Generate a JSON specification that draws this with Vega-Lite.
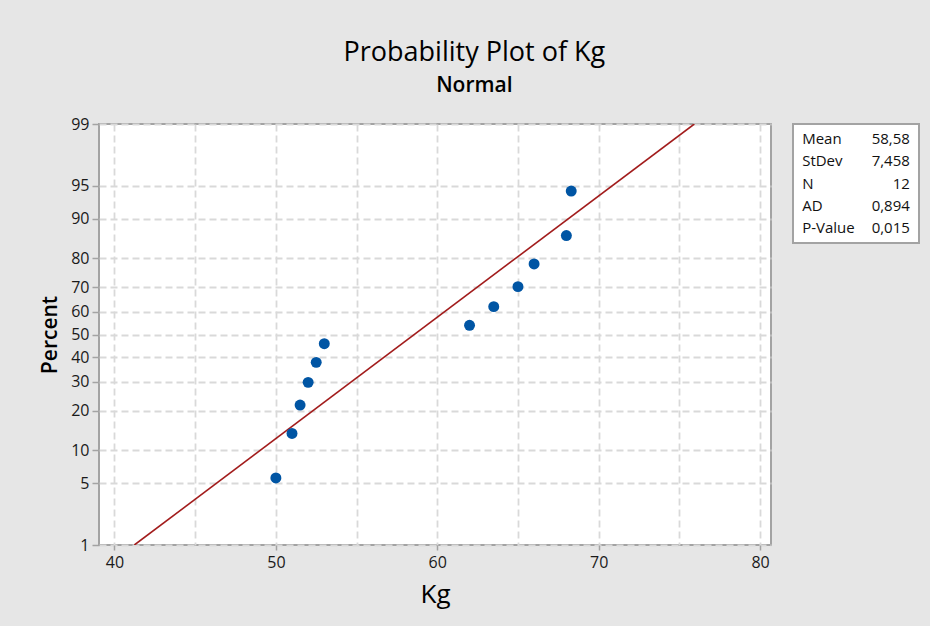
{
  "$schema": "https://vega.github.io/schema/vega-lite/v6.json",
  "autosize": {"type": "pad"},
  "padding": {"left": 38, "top": 39, "right": 10, "bottom": 19},
  "background": "#e6e6e6",
  "title": {
    "text": "Probability Plot of Kg",
    "subtitle": "Normal",
    "anchor": "middle",
    "font": "Open Sans",
    "fontSize": 27,
    "fontWeight": "normal",
    "color": "#000000",
    "subtitleFont": "Open Sans",
    "subtitleFontSize": 21,
    "subtitleFontWeight": 600,
    "subtitleColor": "#000000",
    "subtitlePadding": 8,
    "offset": 18,
    "dx": -5
  },
  "datasets": {
    "obs": [
      {"kg": 50.0, "percent": 5.65, "z": -1.585},
      {"kg": 51.0, "percent": 13.71, "z": -1.094},
      {"kg": 51.5, "percent": 21.77, "z": -0.780},
      {"kg": 52.0, "percent": 29.84, "z": -0.529},
      {"kg": 52.5, "percent": 37.90, "z": -0.308},
      {"kg": 53.0, "percent": 45.97, "z": -0.1013},
      {"kg": 62.0, "percent": 54.03, "z": 0.1013},
      {"kg": 63.5, "percent": 62.10, "z": 0.308},
      {"kg": 65.0, "percent": 70.16, "z": 0.529},
      {"kg": 66.0, "percent": 78.23, "z": 0.780},
      {"kg": 68.0, "percent": 86.29, "z": 1.094},
      {"kg": 68.3, "percent": 94.35, "z": 1.585}
    ],
    "fit": [
      {"kg": 41.23, "percent": 1, "z": -2.326348},
      {"kg": 75.93, "percent": 99, "z": 2.326348}
    ],
    "stats": [
      {"stat": "Mean", "value": "58,58"},
      {"stat": "StDev", "value": "7,458"},
      {"stat": "N", "value": "12"},
      {"stat": "AD", "value": "0,894"},
      {"stat": "P-Value", "value": "0,015"}
    ]
  },
  "bounds": "flush",
  "spacing": 22,
  "hconcat": [
    {
      "width": 672,
      "height": 421,
      "encoding": {
        "x": {
          "field": "kg",
          "type": "quantitative",
          "scale": {"domain": [39.04, 80.68], "nice": false, "zero": false},
          "axis": {
            "title": "Kg",
            "values": [40, 45, 50, 55, 60, 65, 70, 75, 80],
            "labelExpr": "datum.value % 10 == 0 ? datum.label : ''",
            "tickOpacity": {"condition": {"test": "datum.value % 10 == 0", "value": 1}, "value": 0},
            "tickSize": 5,
            "labelPadding": 4,
            "titlePadding": 11,
            "titleFontSize": 26
          }
        },
        "y": {
          "field": "z",
          "type": "quantitative",
          "scale": {"domain": [-2.326348, 2.326348], "nice": false, "zero": false},
          "axis": {
            "title": "Percent",
            "values": [-2.326348, -1.644854, -1.281552, -0.841621, -0.524401, -0.253347, 0, 0.253347, 0.524401, 0.841621, 1.281552, 1.644854, 2.326348],
            "labelExpr": "format(cumulativeNormal(datum.value) * 100, '.0f')",
            "tickSize": 7,
            "labelPadding": 3,
            "titlePadding": 10,
            "titleFontSize": 21,
            "titleFontWeight": 600
          }
        }
      },
      "layer": [
        {
          "data": {"name": "fit"},
          "mark": {"type": "line", "color": "#a21c1c", "strokeWidth": 1.6, "clip": true}
        },
        {
          "data": {"name": "obs"},
          "mark": {"type": "circle", "size": 120, "opacity": 1, "color": "#0055a4"}
        }
      ]
    },
    {
      "width": 126,
      "height": 119,
      "data": {"name": "stats"},
      "encoding": {
        "y": {"field": "stat", "type": "nominal", "sort": null, "scale": {"type": "point", "padding": 0.7}, "axis": null}
      },
      "layer": [
        {
          "mark": {"type": "text", "align": "left", "baseline": "middle", "font": "Open Sans", "fontSize": 15, "color": "#111111"},
          "encoding": {
            "x": {"datum": "label", "type": "nominal", "scale": {"type": "point", "domain": ["label", "value"], "padding": 0.085}, "axis": null},
            "text": {"field": "stat"}
          }
        },
        {
          "mark": {"type": "text", "align": "right", "baseline": "middle", "font": "Open Sans", "fontSize": 15, "color": "#111111"},
          "encoding": {
            "x": {"datum": "value", "type": "nominal"},
            "text": {"field": "value"}
          }
        }
      ]
    }
  ],
  "config": {
    "view": {"stroke": "#a3a3a3", "strokeWidth": 2, "fill": "#ffffff"},
    "axis": {
      "domain": false,
      "grid": true,
      "gridColor": "#d9d9d9",
      "gridDash": [7, 4],
      "gridWidth": 1.8,
      "tickColor": "#a3a3a3",
      "tickWidth": 1.5,
      "labelFont": "Open Sans",
      "labelFontSize": 16,
      "labelColor": "#1a1a1a",
      "labelOverlap": false,
      "labelFlush": false,
      "titleFont": "Open Sans",
      "titleFontWeight": "normal",
      "titleColor": "#000000"
    }
  }
}
